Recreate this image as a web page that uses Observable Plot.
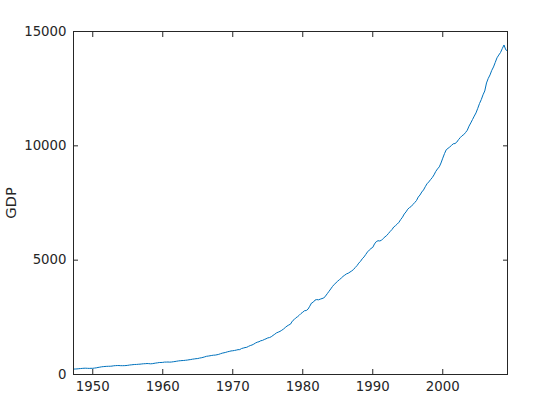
<!DOCTYPE html>
<html><head><meta charset="utf-8">
<script src="https://cdn.jsdelivr.net/npm/d3@7"></script>
<script src="https://cdn.jsdelivr.net/npm/@observablehq/plot@0.6"></script>
<style>
html,body{margin:0;padding:0;background:#fff}
#chart svg text{font-size:13.3px}
#chart svg text.ylab{font-size:14.7px}
</style>
</head><body><div id="chart"></div>
<script>
const years = [1947,1948,1949,1950,1951,1952,1953,1954,1955,1956,1957,1958,1959,
  1960,1961,1962,1963,1964,1965,1966,1967,1968,1969,
  1970,1971,1972,1973,1974,1975,1976,1977,1978,1979,
  1980,1981,1982,1983,1984,1985,1986,1987,1988,1989,
  1990,1991,1992,1993,1994,1995,1996,1997,1998,1999,
  2000,2001,2002,2003,2004,2005,2006,2007,2008,2009];
// quarterly GDP (billions), one row per year, Q1..Q4
const gdpByYear = [
  [237,240,244,254],[260,267,274,275],[270,267,271,270],
  [281,291,308,320],[336,344,351,356],[360,361,368,381],[388,392,392,386],[386,387,392,400],
  [414,422,431,438],[440,447,452,461],[470,473,480,476],[468,473,487,500],[511,524,525,529],
  [543,543,546,541],[546,557,568,581],[595,602,609,613],[622,631,644,654],[670,680,692,698],
  [718,731,749,772],[796,806,819,833],[844,849,864,881],[909,934,950,968],[993,1009,1030,1038],
  [1051,1067,1086,1088],[1135,1156,1177,1190],[1230,1266,1290,1328],[1377,1413,1433,1476],[1491,1530,1560,1599],
  [1616,1651,1709,1761],[1820,1852,1886,1934],[1988,2055,2118,2164],[2203,2331,2395,2476],[2526,2591,2667,2723],
  [2789,2797,2857,2986],[3124,3163,3254,3277],[3266,3295,3321,3345],[3431,3534,3638,3742],[3850,3940,4010,4085],
  [4150,4215,4290,4345],[4400,4430,4480,4530],[4590,4680,4760,4870],[4950,5060,5140,5250],[5360,5440,5510,5560],
  [5710,5810,5850,5840],[5870,5950,6020,6080],[6170,6260,6340,6450],[6510,6580,6660,6780],[6880,7020,7110,7230],
  [7300,7350,7440,7520],[7610,7760,7850,7980],[8070,8210,8340,8420],[8520,8610,8730,8880],[8990,9080,9250,9460],
  [9660,9830,9890,9950],[10020,10090,10100,10160],[10270,10360,10440,10490],[10580,10680,10860,11000],[11150,11300,11440,11640],
  [11850,12020,12230,12400],[12750,12950,13100,13300],[13450,13650,13850,13970],[14080,14250,14410,14200],[14150]
];
const xTicks = [1950,1960,1970,1980,1990,2000];
const yTicks = [0,5000,10000,15000];
const yLabel = "GDP";

const rows = [];
gdpByYear.forEach((qs, i) => qs.forEach((v, q) => rows.push({date: years[i] + (q + 1) / 4, gdp: v})));

const axisColor = "#262626";
const chart = Plot.plot({
  width: 560, height: 420,
  marginLeft: 73, marginRight: 53, marginTop: 31, marginBottom: 46,
  style: {fontFamily: "DejaVu Sans", fontSize: "13.3px", color: axisColor, background: "#fff"},
  x: {domain: [1947.25, 2009.25]},
  y: {domain: [0, 15000]},
  marks: [
    Plot.line(rows, {x: "date", y: "gdp", stroke: "#0072BD", strokeWidth: 1}),
    Plot.frame({stroke: axisColor}),
    Plot.axisX(xTicks, {anchor: "bottom", tickSize: -5, tickPadding: 12, tickFormat: d3.format("d"), label: null}),
    Plot.axisX(xTicks, {anchor: "top", tickSize: -5, tickFormat: () => "", label: null}),
    Plot.axisY(yTicks, {anchor: "left", tickSize: -5, tickPadding: 12, tickFormat: d3.format("d"), label: yLabel, labelAnchor: "center", labelArrow: "none", labelOffset: 68}),
    Plot.axisY(yTicks, {anchor: "right", tickSize: -5, tickFormat: () => "", label: null})
  ]
});
d3.select(chart).selectAll("text").filter(function() { return this.textContent === yLabel; }).attr("class", "ylab");
document.getElementById("chart").appendChild(chart);
</script>
</body></html>
